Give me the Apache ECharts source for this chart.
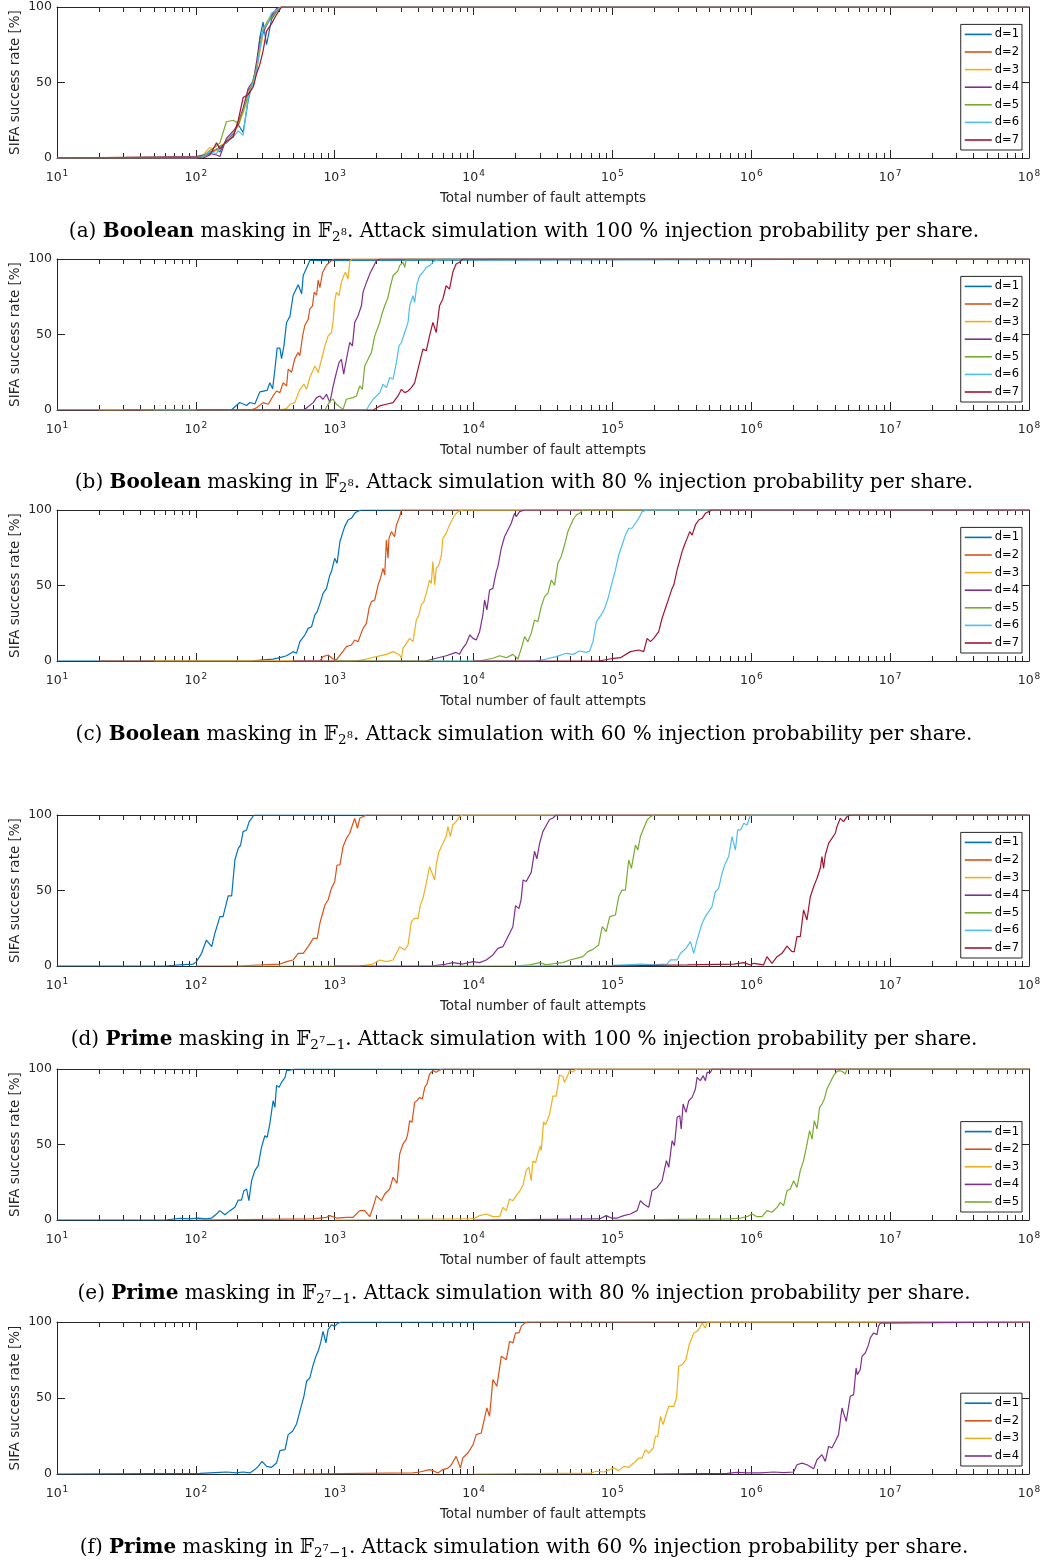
<!DOCTYPE html>
<html><head><meta charset="utf-8">
<script src="https://cdn.jsdelivr.net/npm/echarts@6/dist/echarts.min.js"></script>
<style>html,body{margin:0;padding:0;background:#fff}#c{width:1048px;height:1566px}</style>
</head><body><div id="c"></div>
<script>
// ---------------- DATA ----------------
const seriesNames = ['d=1','d=2','d=3','d=4','d=5','d=6','d=7'];
const xTickExponents = [1,2,3,4,5,6,7,8];
const xMinorFactors = [2,3,4,5,6,7,8,9];
const yTicks = [0,50,100];

// (a) Boolean, 100 %
const a_x  = [10,101,113,126,141,149,166,186,202,219,238,259,274,289,305,323,351,381,414,1e8];
const a1_y = [0,0,1,3,6,4,12,16,22,17,38,52,58,80,90,75,92,97,100,100];
const a2_y = [0,0,2,4,5,8,10,15,24,32,45,48,62,72,84,88,94,98,100,100];
const a3_y = [0,1,2,7,5,6,12,17,21,30,40,50,58,70,82,90,95,98,100,100];
const a4_y = [0,1,2,3,2,1,13,18,22,33,46,51,64,79,83,88,94,99,100,100];
const a5_y = [0,0,1,5,8,10,24,25,23,31,42,52,60,74,86,89,93,97,100,100];
const a6_y = [0,0,1,4,3,7,10,14,18,15,40,50,58,72,85,88,96,98,100,100];
const a7_y = [0,0,0,2,10,6,11,14,25,40,42,47,56,62,71,84,89,95,100,100];

// (b) Boolean, 80 %
const b1_x = [10,180,207,232,245,266,289,326,341,357,371,385,403,414,430,450,476,502,546,578,593,627,662,681,1e8];
const b1_y = [0,0,5,3,5,4,12,13,18,14,27,41,41,34,42,58,62,76,83,77,89,94,99,100,100];
const b2_x = [10,250,274,305,332,360,381,403,425,450,462,489,516,545,561,587,609,644,662,692,711,740,760,782,817,873,923,986,1e8];
const b2_y = [0,0,1.5,4.9,3.8,9.3,12.6,11.5,18,16,27,25,34,38,36,49,56,60,67,69,78,76,86,81,91,96,98,100,100];
const b3_x = [20,400,450,476,516,561,600,627,662,720,760,804,850,896,947,975,1000,1028,1074,1117,1161,1194,1247,1282,1319,1e8];
const b3_y = [0,0,0.9,3.8,4.9,13.7,17,13.7,21.5,29.2,24.8,33.6,42.5,49.1,51.3,59,72.3,77.9,75.7,84.5,88.9,91.2,86.7,97.8,100,100];
const b4_x = [30,600,700,740,782,824,873,923,975,1028,1074,1117,1161,1214,1282,1341,1393,1472,1557,1599,1692,1787,1888,1942,1997,2110,1e8];
const b4_y = [0,0,4.9,8.2,9.3,7.1,10.4,4.9,15.9,24.8,31.4,33.6,23.7,33.6,44.7,42.5,58,62.4,69,77.9,84.5,90,94.5,96.7,98.9,100,100];
const b5_x = [40,850,923,975,1028,1148,1214,1355,1433,1514,1583,1644,1738,1838,1942,2110,2169,2291,2420,2489,2630,2856,2936,3103,3191,3281,1e8];
const b5_y = [0,0,6,7.1,3.8,0.4,7.1,8.2,9.3,15.9,13.7,29.2,33.6,38,49.1,58,62.4,69,74.6,80.1,88.9,92.3,95.6,97.8,94.5,100,100];
const b6_x = [50,1692,1787,1888,1997,2110,2229,2356,2489,2630,2781,2904,3023,3191,3372,3466,3662,3765,3909,4087,4318,4563,4821,5094,5534,1e8];
const b6_y = [0,0,3.8,7.1,9.3,11.5,17,14.8,21.5,20.4,31.4,42.5,44.7,51.3,58,69,75.7,71.2,83.4,88.9,91.2,94.5,95.6,97.8,100,100];
const b7_x = [100,1900,2110,2356,2630,2856,3023,3191,3372,3564,3765,3977,4087,4318,4563,4821,5094,5382,5686,6008,6347,6706,7085,7486,7909,8356,1e8];
const b7_y = [0,0,2.7,3.8,4.9,9.3,13.7,11.5,12.6,14.8,18,27,31.4,40.3,39.2,49.1,58,51.3,69,73.5,82.3,80.1,91.2,96.7,97.8,100,100];

// (c) Boolean, 60 %
const c1_x = [10,250,305,360,403,450,502,531,561,609,644,681,720,748,791,824,873,923,947,1000,1039,1090,1148,1180,1247,1319,1393,1472,1557,1e8];
const c1_y = [0,0,0.7,1.3,2.2,3.5,6.2,5.1,12.8,17.2,21.6,22.7,30.5,32.7,39.3,44.8,48.1,57,59.2,68,64.7,79,85.7,89,93.4,94.5,97.8,99.3,100,100];
const c2_x = [20,780,824,896,975,1028,1117,1214,1319,1393,1472,1599,1692,1767,1838,1942,2052,2134,2229,2291,2356,2420,2459,2560,2700,2781,2936,3023,1e8];
const c2_y = [0,0,2.9,4,1.3,0.7,5.1,9.5,10.6,13.9,12.8,21.6,24.9,34.9,39.3,40.4,50.3,54.7,61.4,57,80.1,68,81.2,85.7,82.3,90.1,95.6,100,100];
const c3_x = [50,1400,1692,1997,2356,2630,2781,2936,3023,3103,3281,3466,3662,3870,4040,4200,4390,4563,4690,4821,4960,5094,5250,5382,5630,5870,6008,6347,6706,6990,7320,7740,8356,1e8];
const c3_y = [0,0,1.3,2.9,4.4,6.2,5.1,4,1.8,8.4,11.7,15,12.8,27.2,30.5,37.1,39.3,44.8,43.7,53.6,51.4,65.8,50.3,61.4,63.6,70.2,81.2,84.5,90.1,93.4,96.7,98.9,100,100];
const c4_x = [500,4500,5382,6347,7486,7909,8356,8880,9390,9920,10450,11050,11670,12000,12470,13040,13770,14570,14960,15830,16710,17670,18680,19190,19730,20280,21450,23290,1e8];
const c4_y = [0,0,1.8,3.5,5.7,4.4,8.4,11.7,17.2,15,13.9,19.4,30.5,40.4,33.8,47,48.1,59.2,62.5,74.6,82.3,86.8,91.2,94.5,97.8,95.6,98.9,100,100];
const c5_x = [1000,11000,13770,15380,17200,19190,20860,22070,23290,24590,26020,27480,29040,30720,32450,34290,36250,38300,40440,42760,45180,47760,49140,51930,54900,58000,61270,1e8];
const c5_y = [0,0,1.8,3.5,2.2,4.4,1.3,8.4,16.1,12.8,18.3,27.2,26,36,42.6,44.8,53.6,50.3,64.7,69.1,76.8,85.7,84.5,93.4,96.7,97.8,100,100];
const c6_x = [5000,28000,33360,39360,46450,51930,58000,64870,68520,72440,76560,83000,87990,92960,98300,105100,111000,117400,124000,131000,138600,146400,154700,163600,177800,1e8];
const c6_y = [0,0,1.3,2.9,5.1,4.4,6.6,5.7,6.6,12.8,26,30.5,34.9,41.5,50.3,60.3,70.2,76.8,83.4,87.9,87.9,91.2,94.5,98.9,100,100];
const c7_x = [10000,80000,102200,114200,134800,154700,168000,177800,187900,198400,215400,227800,240900,254500,269100,276600,292300,300300,317600,330000,345300,360300,374900,395900,418200,442300,467200,493500,521800,1e8];
const c7_y = [0,0,1.8,2.2,6.2,7.3,6.2,15,12.8,15,19.4,28.3,34.9,41.5,48.1,50.3,60.3,59.2,72.4,76.8,81.2,85.7,83.4,90.1,93.4,94.5,97.8,98.9,100,100];

// (d) Prime, 100 %
const d1_x = [10,60,76.9,95.8,101,110,119,130,137,149,157,171,181,191,202,210,219,232,242,252,262,1e8];
const d1_y = [0,0,0.7,1.3,2.9,8.4,17.2,12.8,21.6,32.7,32.7,46.4,46.4,70.2,77.9,80.1,89,90.1,95.6,97.8,100,100];
const d2_x = [100,200,305,403,450,502,546,593,644,700,748,782,850,896,947,1000,1039,1090,1148,1214,1282,1355,1393,1457,1514,1599,1692,1e8];
const d2_y = [0,0,0.7,1.3,2.9,4,8.4,8.4,12.8,18.3,18.3,28.3,40.4,43.7,51.4,55.8,66.9,66.9,79,84.5,87.9,94.5,97.8,91.2,97.8,98.9,100,100];
const d3_x = [200,1500,1888,2110,2356,2630,2936,3191,3372,3564,3765,3977,4140,4318,4563,4821,4960,5250,5382,5630,6008,6347,6540,6810,7085,7486,7909,8356,1e8];
const d3_y = [0,0,1.3,4,2.9,4,12.8,10.6,13.9,29.4,31.6,31.6,40.4,44.8,54.7,65.8,66.9,57,66.9,75.7,81.2,85.7,92.3,85.7,93.4,95.6,98.9,100,100];
const d4_x = [1000,5000,6347,7085,8356,9920,11050,12340,13770,14960,16260,17670,19190,20060,21210,22000,22720,23970,24590,26020,27480,28560,29870,31560,33360,35260,37260,39360,1e8];
const d4_y = [0,0,1.3,2.2,1.3,2.9,2.2,4,7.3,11.7,12.8,19.4,26,40,38,44,57,56,58,62,76,71,81,89,93,97,98,100,100];
const d5_x = [5000,20000,25300,29870,33360,39360,43950,49140,54900,61270,66500,72440,79500,84410,90100,95600,105100,111000,117400,124000,131000,137000,146400,152200,159000,168000,177800,187900,198400,1e8];
const d5_y = [0,0,0.7,2.2,0.7,1.8,2.2,4,5.1,6.2,9.5,11,13.9,26,22.7,32.7,33.8,45.9,50.3,50.3,70.2,64.7,80.1,76.8,85.7,91.2,96.7,98.9,100,100];
const d6_x = [20000,102200,159000,198400,247700,261700,292300,309100,338700,364800,385000,407000,442300,467200,493500,521800,551000,582000,615600,650000,687000,727000,768000,798000,836000,883000,933000,986000,1e8];
const d6_y = [0,0.4,1.3,0.7,1.3,4,4,8.4,11.7,16.1,8.4,17.2,28.3,32.7,36,39.3,49.2,51.4,61.4,68,72.4,85.7,76.8,90.1,90.1,94.5,93.4,100,100];
const d7_x = [100000,345300,748000,883000,986000,1039000,1129000,1226000,1297000,1409000,1532000,1664000,1808000,1964000,2040000,2133000,2253000,2380000,2518000,2661000,2812000,2975000,3140000,3228000,3315000,3413000,3603000,3808000,4028000,4140000,4376000,4620000,4886000,5160000,1e8];
const d7_y = [0,0.7,1.3,2.2,0.7,1.8,1.3,0.7,6.2,1.8,6.2,8.4,13.2,9.5,9.5,19.4,19.4,37.1,30.5,45.9,52.5,58.1,64.7,72.4,64.7,73.5,81.2,84.5,87.9,92.3,97.8,95.6,98.9,100,100];

// (e) Prime, 80 %
const e1_x = [10,60,76.9,90.6,104,119,130,141,149,162,176,191,202,213,222,232,241,252,266,281,297,314,326,341,360,371,381,398,414,439,450,476,516,1e8];
const e1_y = [0,0,1.1,0.7,1.3,0.7,1.3,4,6.2,3.5,6.2,8.4,13.2,13.2,19.4,20.5,12.8,26,32.7,36,48.1,55.8,54.7,63.6,79,74.6,89,87.9,91.2,94.5,98.9,99.3,100,100];
const e2_x = [100,700,873,923,1028,1214,1355,1514,1644,1787,1888,1997,2169,2291,2489,2630,2810,2936,3103,3281,3372,3466,3603,3765,3909,4087,4276,4450,4620,4821,5094,5382,5686,6008,1e8];
const e2_y = [0,0.7,1.8,2.9,1.3,1.8,1.8,6.2,6.2,2.2,8.4,16.1,12.8,17.2,20.5,28.3,24.3,43.7,50.3,53.6,58.1,65.8,64.7,77.9,79,81.2,80.1,87.9,90.1,96.7,98.9,97.8,99.3,100,100];
const e3_x = [1000,9920,11050,12340,13770,15380,16260,17200,18170,19190,20280,21450,22660,23970,25010,26020,26720,27980,29040,30230,30720,31900,33000,35260,37260,39360,41600,43950,45180,47760,49140,51930,54900,1e8];
const e3_y = [0,0.7,2.9,4,2.2,2.2,8.4,6.2,13.9,12.8,16.1,19,23,33,35,26,39,38,44,49,46,65,63,70,82,82,96,95,91,96,99,98,100,100];
const e4_x = [10000,80880,90100,98300,108100,120600,134800,150600,159000,168000,182500,193000,210000,227800,244800,254500,269100,279800,292300,305600,312700,323000,338700,354600,374900,395900,407000,430000,450000,467200,480600,509000,521800,1e8];
const e4_y = [0,0.7,2.9,1.3,1.3,2.9,4,6.2,12.8,10.6,8.4,19.4,21.6,26,39.3,34.9,52.5,49.2,68,69.1,60.3,76.8,71.3,79,81.2,86.8,94.5,92.3,95.6,92.3,97.8,97.8,100,100];
const e5_x = [100000,708000,836000,933000,1012000,1099000,1194000,1297000,1409000,1532000,1618000,1709000,1808000,1909000,2017000,2133000,2253000,2380000,2518000,2630000,2740000,2842000,2975000,3103000,3228000,3358000,3507000,3707000,3909000,4087000,4250000,4500000,4755000,4886000,1e8];
const e5_y = [0,0.7,1.3,2.2,4,2.2,2.2,6.2,5.1,8.4,11.7,9.5,19.4,20.5,26,21.6,32.7,39.3,50.3,59.2,53.6,65.8,60.3,74.6,76.8,80.1,86.8,91.2,95.6,97.8,98.9,98.5,96.7,100,100];

// (f) Prime, 60 %
const f1_x = [10,107,149,166,196,219,245,266,281,300,323,351,381,403,439,462,497,531,561,578,600,627,662,700,732,760,791,824,864,896,947,1000,1056,1117,1e8];
const f1_y = [0,0.4,1.1,1.3,0.7,1.3,0.7,2.9,5,8.3,5,4.4,7.2,15.4,16,25.9,28.1,32.9,41.2,40.8,51.1,61,63.2,71.9,77.4,80.7,86.2,93.9,86.2,95,98.2,97.1,99.3,100,100];
const f2_x = [500,3662,4087,4821,5094,5534,6008,6540,6920,7486,8040,8356,9100,9920,10450,11360,12000,12470,13040,13770,14720,15830,17200,18170,19190,20060,21210,22070,23290,24590,1e8];
const f2_y = [0,0.7,1.3,2.9,2.2,0.7,2.9,3.9,6.1,11.6,3.9,10.5,13.8,19.3,25.9,27,36.8,43.4,37.9,62.1,57.7,77.4,75.2,87.3,86.2,92.8,92.8,97.1,99.3,100,100];
const f3_x = [10000,41600,68520,76560,86500,102200,111000,120600,131000,142400,154700,163600,172800,182500,196400,204000,212100,221800,231900,244800,254500,276600,289400,300300,317600,338700,341300,354600,364800,385000,407000,425000,442300,467200,480600,1e8];
const f3_y = [0,0.4,0.4,1.8,1.3,3.9,2.2,5,4.4,7.2,10.5,10.5,16,13.8,17.1,24.8,24.8,37.9,32.5,40.1,44.5,44.5,50,70.8,71.9,75.2,74.1,84,82.9,92.8,93.9,96,99.3,96,100,100];
const f4_x = [200000,669800,791000,933000,1161000,1447000,1709000,2017000,2133000,2318000,2518000,2812000,2975000,3228000,3413000,3603000,3808000,4028000,4250000,4500000,4830000,5160000,5460000,5686000,5800000,6086000,6270000,6620000,6995000,7190000,7600000,7820000,8040000,8240000,8490000,8730000,1e8];
const f4_y = [0,0.4,1.1,0.7,0.7,1.3,0.9,1.3,6.1,7.2,6.1,3.5,9.4,12.7,8.3,18.2,17.1,21.5,25.9,43.4,34.6,51.1,52.2,69.7,65.4,68.6,77.4,79.6,85.1,89.5,92.8,93.9,91.7,97.1,99.3,100,100];

// captions (rich text)
const captionA = '(a) {b|Boolean} masking in {bb|𝔽}{sub|2}{sup|8}. Attack simulation with 100 % injection probability per share.';
const captionB = '(b) {b|Boolean} masking in {bb|𝔽}{sub|2}{sup|8}. Attack simulation with 80 % injection probability per share.';
const captionC = '(c) {b|Boolean} masking in {bb|𝔽}{sub|2}{sup|8}. Attack simulation with 60 % injection probability per share.';
const captionD = '(d) {b|Prime} masking in {bb|𝔽}{sub|2}{sup|7}{sub|−1}. Attack simulation with 100 % injection probability per share.';
const captionE = '(e) {b|Prime} masking in {bb|𝔽}{sub|2}{sup|7}{sub|−1}. Attack simulation with 80 % injection probability per share.';
const captionF = '(f) {b|Prime} masking in {bb|𝔽}{sub|2}{sup|7}{sub|−1}. Attack simulation with 60 % injection probability per share.';

// ---------------- LAYOUT / STYLE ----------------
const colors = ['#0072BD','#D95319','#EDB120','#7E2F8E','#77AC30','#4DBEEE','#A2142F'];
const axisColor = '#262626';
const sansFont = 'DejaVu Sans';
const serifFont = 'DejaVu Serif';

const panels = [
  {top:7,    h:151, capCenter:232,  caption:captionA, curves:[[a_x,a1_y],[a_x,a2_y],[a_x,a3_y],[a_x,a4_y],[a_x,a5_y],[a_x,a6_y],[a_x,a7_y]]},
  {top:259,  h:151, capCenter:483,  caption:captionB, curves:[[b1_x,b1_y],[b2_x,b2_y],[b3_x,b3_y],[b4_x,b4_y],[b5_x,b5_y],[b6_x,b6_y],[b7_x,b7_y]]},
  {top:510,  h:151, capCenter:735,  caption:captionC, curves:[[c1_x,c1_y],[c2_x,c2_y],[c3_x,c3_y],[c4_x,c4_y],[c5_x,c5_y],[c6_x,c6_y],[c7_x,c7_y]]},
  {top:815,  h:151, capCenter:1040, caption:captionD, curves:[[d1_x,d1_y],[d2_x,d2_y],[d3_x,d3_y],[d4_x,d4_y],[d5_x,d5_y],[d6_x,d6_y],[d7_x,d7_y]]},
  {top:1069, h:151, capCenter:1294, caption:captionE, curves:[[e1_x,e1_y],[e2_x,e2_y],[e3_x,e3_y],[e4_x,e4_y],[e5_x,e5_y]]},
  {top:1322, h:152, capCenter:1548, caption:captionF, curves:[[f1_x,f1_y],[f2_x,f2_y],[f3_x,f3_y],[f4_x,f4_y]]}
];

const minorVals = [];
for (let k = 0; k < xTickExponents.length - 1; k++) {
  for (const f of xMinorFactors) minorVals.push(xTickExponents[k] + Math.log10(f));
}

const grid = [], xAxis = [], yAxis = [], series = [], legend = [], title = [];
const lineSt = {color: axisColor, width: 1};

panels.forEach((p, i) => {
  grid.push({left: 57, right: 19, top: p.top, height: p.h, show: false, containLabel: false, outerBoundsMode: 'none'});
  const xData = xAxis.length;
  xAxis.push({type: 'log', logBase: 10, min: 10, max: 1e8, gridIndex: i, show: false});
  const decor = {
    type: 'value', min: xTickExponents[0], max: xTickExponents[xTickExponents.length - 1], gridIndex: i,
    splitLine: {show: false}, silent: true,
    axisLine: {show: false, onZero: false},
    axisLabel: {show: false}
  };
  xAxis.push(Object.assign({}, decor, {
    position: 'bottom', interval: 1,
    axisLine: {show: true, onZero: false, lineStyle: lineSt},
    axisTick: {show: true, inside: true, length: 8, lineStyle: lineSt},
    axisLabel: {
      show: true, margin: 11, color: axisColor, fontFamily: sansFont, fontSize: 12.5, lineHeight: 18,
      formatter: v => '10{s|' + v + '}',
      rich: {s: {fontSize: 9, lineHeight: 10, verticalAlign: 'top', fontFamily: sansFont, color: axisColor, padding: [0,0,0,1]}}
    },
    name: 'Total number of fault attempts', nameLocation: 'middle', nameGap: 33,
    nameTextStyle: {color: axisColor, fontFamily: sansFont, fontSize: 13.5}
  }));
  xAxis.push(Object.assign({}, decor, {
    position: 'bottom',
    axisTick: {show: true, inside: true, length: 5, customValues: minorVals, lineStyle: lineSt}
  }));
  xAxis.push(Object.assign({}, decor, {
    position: 'top', interval: 1,
    axisLine: {show: true, onZero: false, lineStyle: lineSt},
    axisTick: {show: true, inside: true, length: 8, lineStyle: lineSt}
  }));
  xAxis.push(Object.assign({}, decor, {
    position: 'top',
    axisTick: {show: true, inside: true, length: 5, customValues: minorVals, lineStyle: lineSt}
  }));

  const yData = yAxis.length;
  yAxis.push({
    type: 'value', min: yTicks[0], max: yTicks[yTicks.length - 1], interval: yTicks[1] - yTicks[0],
    gridIndex: i, position: 'left', splitLine: {show: false},
    axisLine: {show: true, onZero: false, lineStyle: lineSt},
    axisTick: {show: true, inside: true, length: 8, lineStyle: lineSt},
    axisLabel: {margin: 5, color: axisColor, fontFamily: sansFont, fontSize: 12.5},
    name: 'SIFA success rate [%]', nameLocation: 'middle', nameGap: 35, nameMoveOverlap: false,
    nameTextStyle: {color: axisColor, fontFamily: sansFont, fontSize: 13.5}
  });
  yAxis.push({
    type: 'value', min: yTicks[0], max: yTicks[yTicks.length - 1], interval: yTicks[1] - yTicks[0],
    gridIndex: i, position: 'right', splitLine: {show: false},
    axisLine: {show: true, onZero: false, lineStyle: lineSt},
    axisTick: {show: true, inside: true, length: 8, lineStyle: lineSt},
    axisLabel: {show: false}
  });

  p.curves.forEach((c, k) => {
    series.push({
      type: 'line', name: seriesNames[k], xAxisIndex: xData, yAxisIndex: yData,
      data: c[0].map((x, j) => [x, c[1][j]]),
      showSymbol: false, symbol: 'none', silent: true, animation: false,
      lineStyle: {color: colors[k], width: 1.2}, itemStyle: {color: colors[k]}
    });
  });

  legend.push({
    data: seriesNames.slice(0, p.curves.length),
    orient: 'vertical', right: 26, bottom: 1566 - (p.top + p.h - 8),
    icon: 'rect', itemWidth: 27, itemHeight: 1.6, itemGap: 3.6,
    padding: [3, 3, 3, 4], borderColor: axisColor, borderWidth: 1, backgroundColor: '#fff',
    selectedMode: false, align: 'left',
    textStyle: {fontFamily: sansFont, fontSize: 11.5, color: '#000', lineHeight: 14, padding: [0,0,0,-2]}
  });

  title.push({
    text: p.caption, left: 'center', top: p.capCenter - 12, padding: 0,
    textStyle: {
      fontFamily: serifFont, fontSize: 20, fontWeight: 'normal', color: '#000', lineHeight: 24,
      rich: {
        b: {fontFamily: serifFont, fontSize: 20, fontWeight: 'bold', color: '#000', lineHeight: 24},
        bb: {fontFamily: 'DejaVu Serif, DejaVu Sans', fontSize: 20, color: '#000', lineHeight: 24},
        sub: {fontFamily: serifFont, fontSize: 13.5, color: '#000', lineHeight: 8, verticalAlign: 'bottom'},
        sup: {fontFamily: serifFont, fontSize: 10, color: '#000', lineHeight: 10, verticalAlign: 'middle'}
      }
    }
  });
});

const chart = echarts.init(document.getElementById('c'), null, {renderer: 'canvas'});
chart.setOption({
  animation: false, backgroundColor: '#fff',
  color: colors, grid, xAxis, yAxis, series, legend, title, tooltip: {show: false}
});
</script>
</body></html>
